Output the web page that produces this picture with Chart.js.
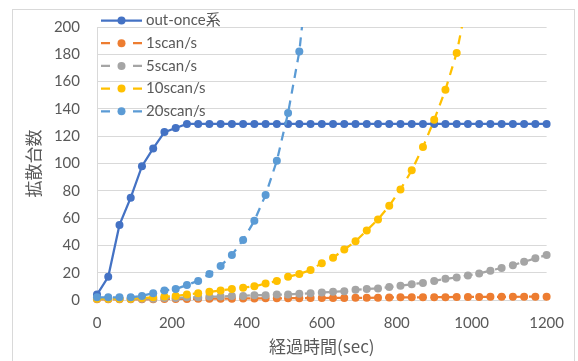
<!DOCTYPE html>
<html>
<head>
<meta charset="utf-8">
<script src="https://cdn.jsdelivr.net/npm/chart.js@4/dist/chart.umd.min.js"></script>
<style>
  html, body { margin: 0; padding: 0; background: #fff; }
  #wrap { position: relative; width: 578px; height: 361px; }
  #frame {
    position: absolute; left: 12px; top: 9px; width: 563px; height: 360px;
    border: 1px solid #d9d9d9; box-sizing: border-box;
  }
  canvas { position: absolute; left: 0; top: 0; }
</style>
</head>
<body>
<div id="wrap">
  <div id="frame"></div>
  <canvas id="chart" width="578" height="361"></canvas>
</div>
<script>
const seriesNames = ['out-once系', '1scan/s', '5scan/s', '10scan/s', '20scan/s'];
const seriesColors = ['#4472C4', '#ED7D31', '#A5A5A5', '#FFC000', '#5B9BD5'];
const xTicks = [0, 200, 400, 600, 800, 1000, 1200];
const yTicks = [0, 20, 40, 60, 80, 100, 120, 140, 160, 180, 200];

// elapsed seconds, one sample every 30 s
const times = [
  0, 30, 60, 90, 120, 150, 180, 210, 240, 270, 300, 330, 360, 390,
  420, 450, 480, 510, 540, 570, 600, 630, 660, 690, 720, 750, 780,
  810, 840, 870, 900, 930, 960, 990, 1020, 1050, 1080, 1110, 1140,
  1170, 1200
];

const outOnce = [
  4, 17, 55, 75, 98, 111, 123, 126, 129, 129, 129, 129, 129, 129,
  129, 129, 129, 129, 129, 129, 129, 129, 129, 129, 129, 129, 129,
  129, 129, 129, 129, 129, 129, 129, 129, 129, 129, 129, 129, 129, 129
];
const scan1 = [
  0.5, 0.5, 0.5, 0.5, 0.5, 0.6, 0.7, 0.8, 0.8, 0.9, 1, 1, 1, 1.1,
  1.1, 1.2, 1.2, 1.3, 1.3, 1.4, 1.4, 1.5, 1.5, 1.6, 1.6, 1.7, 1.8,
  2, 2, 2, 2.1, 2.1, 2.2, 2.2, 2.2, 2.3, 2.3, 2.3, 2.4, 2.4, 2.4
];
const scan5 = [
  1, 1, 1, 1, 1, 1, 1.5, 1.5, 2, 2, 2.5, 2.5, 3, 3,
  3.5, 3.5, 4, 4, 4.5, 5, 5.5, 6, 6.5, 7.5, 8, 8.5, 9.5,
  10.5, 11.5, 12.5, 14, 15.5, 16.5, 18, 19.5, 21.5, 23.5, 25.5, 28, 30.5, 33
];
const scan10 = [
  1, 1, 1, 1, 1.5, 2, 2.5, 3, 4, 5, 6, 7, 8, 9,
  10, 12, 14, 17, 19, 22, 27, 31, 37, 43, 51, 59, 69,
  81, 95, 112, 132, 154, 181, 222
];
const scan20 = [
  2, 2, 2, 2, 3, 5, 7, 8, 11, 14, 19, 25, 33, 44,
  58, 77, 102, 137, 182, 258
];

const seriesValues = [outOnce, scan1, scan5, scan10, scan20];
const seriesDashed = [false, true, true, true, true];

const textColor = '#595959';
const gridColor = '#d9d9d9';
const latin = "Lato, 'Noto Sans CJK JP', sans-serif";
const cjk = "'Noto Sans CJK JP', sans-serif";

const datasets = seriesNames.map((name, i) => ({
  label: name,
  data: seriesValues[i].map((v, j) => ({ x: times[j], y: v })),
  borderColor: seriesColors[i],
  backgroundColor: seriesColors[i],
  borderWidth: 2.25,
  borderDash: seriesDashed[i] ? [9, 7] : [],
  pointRadius: 4,
  pointHoverRadius: 4,
  pointBorderWidth: 0,
  tension: 0,
  // let the markers on the axes show whole, but cut the lines at the top
  clip: { left: 8, right: 8, bottom: 8, top: 0 },
  order: seriesNames.length - i,
}));

// Excel-like legend: line + marker, placed top-left over the plot
const legendPlugin = {
  id: 'excelLegend',
  afterDraw(chart) {
    const ctx = chart.ctx;
    const x0 = 101;
    const y0 = 20.5;
    const step = 22.7;
    ctx.save();
    seriesNames.forEach((name, i) => {
      const y = y0 + i * step;
      ctx.strokeStyle = seriesColors[i];
      ctx.lineWidth = 2.25;
      if (seriesDashed[i]) {
        ctx.beginPath();
        ctx.moveTo(x0, y); ctx.lineTo(x0 + 9, y);
        ctx.moveTo(x0 + 32, y); ctx.lineTo(x0 + 41, y);
        ctx.stroke();
      } else {
        ctx.beginPath();
        ctx.moveTo(x0, y); ctx.lineTo(x0 + 41, y);
        ctx.stroke();
      }
      ctx.fillStyle = seriesColors[i];
      ctx.beginPath();
      ctx.arc(x0 + 20.5, y, 4, 0, Math.PI * 2);
      ctx.fill();
      ctx.fillStyle = textColor;
      ctx.font = '15px ' + latin;
      ctx.textBaseline = 'middle';
      ctx.textAlign = 'left';
      ctx.fillText(name, x0 + 45, y);
    });
    ctx.restore();
  },
};

new Chart(document.getElementById('chart'), {
  type: 'line',
  data: { datasets: datasets },
  options: {
    responsive: false,
    animation: false,
    layout: { padding: { left: 14, top: 27, right: 31, bottom: 4 } },
    plugins: {
      legend: { display: false },
      tooltip: { enabled: false },
    },
    scales: {
      x: {
        type: 'linear',
        min: 0,
        max: 1200,
        afterBuildTicks: (s) => { s.ticks = xTicks.map((v) => ({ value: v })); },
        afterFit: (s) => { s.height = 57; },
        grid: { display: false, drawTicks: false },
        border: { display: true, color: gridColor, width: 1 },
        ticks: {
          color: textColor,
          font: { family: latin, size: 15 },
          padding: 14,
          callback: (v) => String(v),
        },
        title: {
          display: true,
          text: '経過時間(sec)',
          color: textColor,
          font: { family: cjk, size: 17 },
          padding: { top: 0, bottom: 0 },
        },
      },
      y: {
        min: 0,
        max: 200,
        afterBuildTicks: (s) => { s.ticks = yTicks.map((v) => ({ value: v })); },
        afterFit: (s) => { s.width = 83; },
        grid: { color: gridColor, lineWidth: 1, drawTicks: false },
        border: { display: true, color: gridColor, width: 1 },
        ticks: {
          color: textColor,
          font: { family: latin, size: 15 },
          padding: 17,
          callback: (v) => String(v),
        },
        title: {
          display: true,
          text: '拡散台数',
          color: textColor,
          font: { family: cjk, size: 17 },
          padding: { top: 9, bottom: 0 },
        },
      },
    },
  },
  plugins: [legendPlugin],
});
</script>
</body>
</html>
